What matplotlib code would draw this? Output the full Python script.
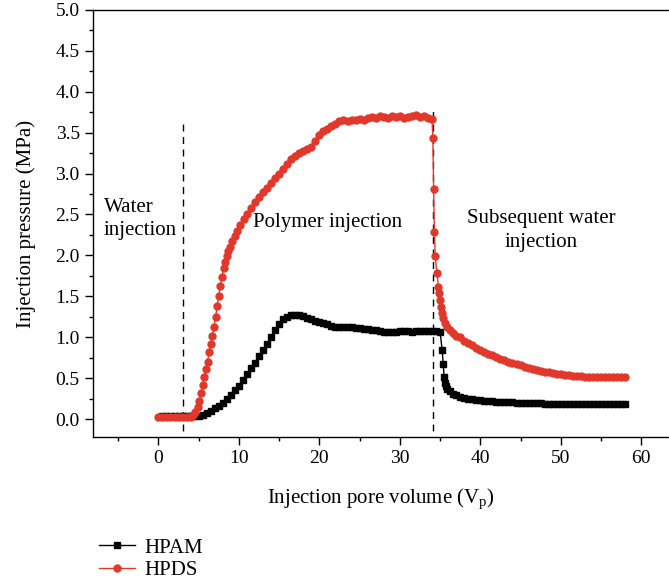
import matplotlib
matplotlib.use("Agg")
import matplotlib.pyplot as plt
from matplotlib.lines import Line2D

plt.rcParams['font.family'] = ['Liberation Serif', 'DejaVu Serif']
plt.rcParams['mathtext.fontset'] = 'custom'
plt.rcParams['mathtext.rm'] = 'Liberation Serif'

# ---------------- data ----------------
hpam_x = [0.5, 1.0, 1.5, 2.0, 2.5, 3.0, 3.5, 4.0, 4.5, 5.0, 5.5, 6.0, 6.5, 7.0, 7.5,
          8.0, 8.5, 9.0, 9.5, 10.0, 10.5, 11.0, 11.5, 12.0, 12.5, 13.0, 13.5, 14.0,
          14.5, 15.0, 15.5, 16.0, 16.5, 17.0, 17.5, 18.0, 18.5, 19.0, 19.5, 20.0,
          20.5, 21.0, 21.5, 22.0, 22.5, 23.0, 23.5, 24.0, 24.5, 25.0, 25.5, 26.0,
          26.5, 27.0, 27.5, 28.0, 28.5, 29.0, 29.5, 30.0, 30.5, 31.0, 31.5, 32.0,
          32.5, 33.0, 33.5, 34.0, 34.5, 35.0, 35.25, 35.4, 35.5, 35.6, 35.7, 35.9,
          36.2, 36.6, 37.0, 37.5, 38.0, 38.5, 39.0, 39.5, 40.0, 40.5, 41.0, 41.5,
          42.0, 42.5, 43.0, 43.5, 44.0, 44.5, 45.0, 45.5, 46.0, 46.5, 47.0, 47.5,
          48.0, 48.5, 49.0, 49.5, 50.0, 50.5, 51.0, 51.5, 52.0, 52.5, 53.0, 53.5,
          54.0, 54.5, 55.0, 55.5, 56.0, 56.5, 57.0, 57.5, 58.0]
hpam_y = [0.04, 0.04, 0.04, 0.04, 0.04, 0.04, 0.04, 0.04, 0.04, 0.04, 0.05, 0.07, 0.10, 0.13, 0.16,
          0.20, 0.24, 0.29, 0.35, 0.41, 0.48, 0.55, 0.62, 0.69, 0.77, 0.84, 0.92, 1.00,
          1.09, 1.16, 1.22, 1.25, 1.27, 1.27, 1.27, 1.26, 1.24, 1.22, 1.20, 1.19,
          1.17, 1.16, 1.14, 1.13, 1.13, 1.13, 1.12, 1.12, 1.11, 1.11, 1.10, 1.10,
          1.09, 1.09, 1.08, 1.07, 1.07, 1.07, 1.07, 1.08, 1.08, 1.08, 1.07, 1.08,
          1.08, 1.08, 1.08, 1.08, 1.08, 1.07, 0.85, 0.67, 0.51, 0.44, 0.40, 0.37,
          0.34, 0.31, 0.29, 0.27, 0.26, 0.25, 0.24, 0.23, 0.23, 0.22, 0.22, 0.22,
          0.21, 0.21, 0.21, 0.21, 0.21, 0.20, 0.20, 0.20, 0.20, 0.20, 0.20, 0.20,
          0.19, 0.19, 0.19, 0.19, 0.19, 0.19, 0.18, 0.18, 0.18, 0.18, 0.18, 0.18,
          0.18, 0.18, 0.18, 0.18, 0.18, 0.18, 0.18, 0.18, 0.18]

hpds_x = [0.0, 0.5, 1.0, 1.5, 2.0, 2.5, 3.0, 3.5, 4.0, 4.3, 4.6, 4.9, 5.1, 5.3, 5.5,
          5.7, 5.9, 6.1, 6.3, 6.5, 6.7, 6.9, 7.1, 7.3, 7.5, 7.7, 7.9, 8.1, 8.3, 8.5,
          8.7, 8.9, 9.2, 9.5, 9.8, 10.2, 10.6, 11.0, 11.5, 12.0, 12.5, 13.0, 13.5,
          14.0, 14.5, 15.0, 15.5, 16.0, 16.5, 17.0, 17.5, 18.0, 18.5, 19.0, 19.5,
          20.0, 20.5, 21.0, 21.5, 22.0, 22.5, 23.0, 23.5, 24.0, 24.5, 25.0, 25.5,
          26.0, 26.5, 27.0, 27.5, 28.0, 28.5, 29.0, 29.5, 30.0, 30.5, 31.0, 31.5,
          32.0, 32.5, 33.0, 33.5, 34.0, 34.1, 34.2, 34.3, 34.4, 34.6, 34.8, 34.9,
          35.0, 35.1, 35.2, 35.4, 35.6, 35.9, 36.2, 36.6, 37.0, 37.5, 38.0, 38.5,
          39.0, 39.5, 40.0, 40.5, 41.0, 41.5, 42.0, 42.5, 43.0, 43.5, 44.0, 44.5,
          45.0, 45.5, 46.0, 46.5, 47.0, 47.5, 48.0, 48.5, 49.0, 49.5, 50.0, 50.5,
          51.0, 51.5, 52.0, 52.5, 53.0, 53.5, 54.0, 54.5, 55.0, 55.5, 56.0, 56.5,
          57.0, 57.5, 58.0]
hpds_y = [0.03, 0.03, 0.03, 0.03, 0.03, 0.03, 0.03, 0.03, 0.03, 0.05, 0.09, 0.15, 0.22, 0.32, 0.42,
          0.52, 0.61, 0.70, 0.82, 0.92, 1.02, 1.13, 1.25, 1.38, 1.51, 1.63, 1.74, 1.84, 1.92, 1.99,
          2.05, 2.10, 2.17, 2.24, 2.30, 2.37, 2.44, 2.51, 2.58, 2.65, 2.71, 2.77, 2.82,
          2.88, 2.94, 3.00, 3.06, 3.12, 3.18, 3.22, 3.25, 3.28, 3.30, 3.33, 3.40,
          3.47, 3.52, 3.55, 3.58, 3.60, 3.64, 3.65, 3.64, 3.66, 3.65, 3.67, 3.66,
          3.68, 3.69, 3.68, 3.70, 3.69, 3.68, 3.70, 3.69, 3.70, 3.68, 3.69, 3.70,
          3.71, 3.69, 3.70, 3.68, 3.67, 3.44, 2.81, 2.28, 1.99, 1.79, 1.62, 1.54,
          1.46, 1.37, 1.30, 1.23, 1.18, 1.13, 1.09, 1.05, 1.02, 1.00, 0.96, 0.93,
          0.90, 0.87, 0.85, 0.82, 0.80, 0.78, 0.76, 0.74, 0.72, 0.70, 0.69, 0.67,
          0.66, 0.64, 0.63, 0.61, 0.60, 0.59, 0.58, 0.57, 0.56, 0.55, 0.55, 0.54,
          0.54, 0.53, 0.53, 0.53, 0.52, 0.52, 0.52, 0.52, 0.52, 0.52, 0.52, 0.52,
          0.52, 0.52, 0.52]

series_names = ["HPAM", "HPDS"]
stage_boundaries = [3.0, 34.1]
stage_labels = ["Water\ninjection", "Polymer injection", "Subsequent water\ninjection"]
x_ticks = [0, 10, 20, 30, 40, 50, 60]
y_ticks = [0.0, 0.5, 1.0, 1.5, 2.0, 2.5, 3.0, 3.5, 4.0, 4.5, 5.0]

RED = '#E2382B'
MS = 5.0

fig = plt.figure(figsize=(6.69, 5.82), dpi=100)
ax = fig.add_axes([0.139, 0.249, 0.861, 0.734])

ax.plot(hpam_x, hpam_y, color='black', lw=1.0, marker='s', ms=MS,
        mec='black', mfc='black', label=series_names[0], zorder=3)
ax.plot(hpds_x, hpds_y, color=RED, lw=1.0, marker='o', ms=MS,
        mec=RED, mfc=RED, label=series_names[1], zorder=4)

ax.vlines(stage_boundaries[0], -0.15, 3.65, colors='black', linestyles=(0, (5, 4)), lw=1.0, zorder=2)
ax.vlines(stage_boundaries[1], -0.15, 3.80, colors='black', linestyles=(0, (5, 4)), lw=1.0, zorder=2)

fs = 15
tfs = 14
ax.text(-6.8, 2.44, stage_labels[0], ha='left', va='center', fontsize=fs, linespacing=1.3)
ax.text(21.0, 2.40, stage_labels[1], ha='center', va='center', fontsize=fs)
ax.text(47.6, 2.30, stage_labels[2], ha='center', va='center', fontsize=fs, linespacing=1.35)

ax.set_xlim(-8.13, 63.45)
ax.set_ylim(-0.22, 5.0)
ax.set_xticks(x_ticks)
ax.set_xticks([-5, 5, 15, 25, 35, 45, 55], minor=True)
ax.set_yticks(y_ticks)
ax.set_yticklabels([f"{v:.1f}" for v in y_ticks])
ax.set_yticks([0.25, 0.75, 1.25, 1.75, 2.25, 2.75, 3.25, 3.75, 4.25, 4.75], minor=True)
ax.tick_params(which='major', direction='out', length=6, width=1.0, labelsize=tfs)
ax.tick_params(which='minor', direction='out', length=3, width=1.0)
ax.spines['right'].set_visible(False)
for s in ['left', 'bottom', 'top']:
    ax.spines[s].set_linewidth(1.0)

ax.set_xlabel(r"Injection pore volume (V$_\mathregular{p}$)", fontsize=fs, labelpad=14)
ax.set_ylabel("Injection pressure (MPa)", fontsize=fs, labelpad=14)

handles = [Line2D([], [], color='black', lw=1.0, marker='s', ms=MS),
           Line2D([], [], color=RED, lw=1.0, marker='o', ms=MS)]
fig.legend(handles, series_names, loc='upper left', bbox_to_anchor=(0.135, 0.09),
           frameon=False, fontsize=fs, handlelength=1.75, handletextpad=0.45,
           labelspacing=0.15, borderaxespad=0)

fig.savefig("out.png", dpi=100)
